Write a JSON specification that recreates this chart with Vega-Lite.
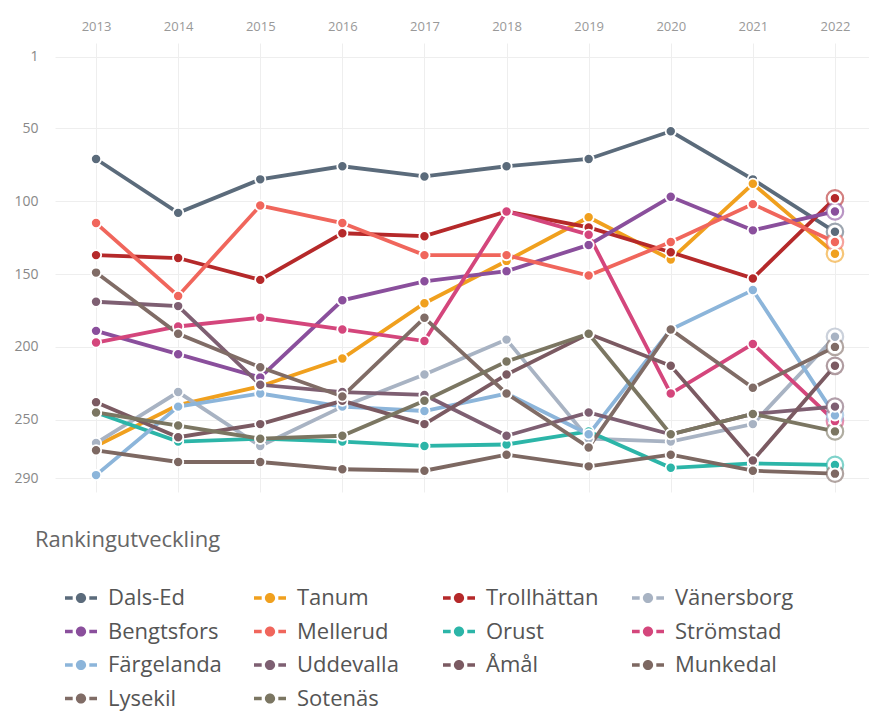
{
  "$schema": "https://vega.github.io/schema/vega-lite/v6.json",
  "width": 821,
  "height": 449,
  "autosize": {"type": "none"},
  "padding": {"left": 55, "top": 43, "right": 0, "bottom": 222},
  "background": "white",
  "config": {"view": {"stroke": null}, "font": "Open Sans"},
  "data": {"values": [
    {"kommun":"Dals-Ed","year":"2013","rank":71},{"kommun":"Dals-Ed","year":"2014","rank":108},{"kommun":"Dals-Ed","year":"2015","rank":85},{"kommun":"Dals-Ed","year":"2016","rank":76},{"kommun":"Dals-Ed","year":"2017","rank":83},{"kommun":"Dals-Ed","year":"2018","rank":76},{"kommun":"Dals-Ed","year":"2019","rank":71},{"kommun":"Dals-Ed","year":"2020","rank":52},{"kommun":"Dals-Ed","year":"2021","rank":85},{"kommun":"Dals-Ed","year":"2022","rank":121},
    {"kommun":"Tanum","year":"2013","rank":268},{"kommun":"Tanum","year":"2014","rank":240},{"kommun":"Tanum","year":"2015","rank":227},{"kommun":"Tanum","year":"2016","rank":208},{"kommun":"Tanum","year":"2017","rank":170},{"kommun":"Tanum","year":"2018","rank":141},{"kommun":"Tanum","year":"2019","rank":111},{"kommun":"Tanum","year":"2020","rank":140},{"kommun":"Tanum","year":"2021","rank":88},{"kommun":"Tanum","year":"2022","rank":136},
    {"kommun":"Trollhättan","year":"2013","rank":137},{"kommun":"Trollhättan","year":"2014","rank":139},{"kommun":"Trollhättan","year":"2015","rank":154},{"kommun":"Trollhättan","year":"2016","rank":122},{"kommun":"Trollhättan","year":"2017","rank":124},{"kommun":"Trollhättan","year":"2018","rank":107},{"kommun":"Trollhättan","year":"2019","rank":118},{"kommun":"Trollhättan","year":"2020","rank":135},{"kommun":"Trollhättan","year":"2021","rank":153},{"kommun":"Trollhättan","year":"2022","rank":98},
    {"kommun":"Vänersborg","year":"2013","rank":266},{"kommun":"Vänersborg","year":"2014","rank":231},{"kommun":"Vänersborg","year":"2015","rank":268},{"kommun":"Vänersborg","year":"2016","rank":241},{"kommun":"Vänersborg","year":"2017","rank":219},{"kommun":"Vänersborg","year":"2018","rank":195},{"kommun":"Vänersborg","year":"2019","rank":263},{"kommun":"Vänersborg","year":"2020","rank":265},{"kommun":"Vänersborg","year":"2021","rank":253},{"kommun":"Vänersborg","year":"2022","rank":193},
    {"kommun":"Bengtsfors","year":"2013","rank":189},{"kommun":"Bengtsfors","year":"2014","rank":205},{"kommun":"Bengtsfors","year":"2015","rank":221},{"kommun":"Bengtsfors","year":"2016","rank":168},{"kommun":"Bengtsfors","year":"2017","rank":155},{"kommun":"Bengtsfors","year":"2018","rank":148},{"kommun":"Bengtsfors","year":"2019","rank":130},{"kommun":"Bengtsfors","year":"2020","rank":97},{"kommun":"Bengtsfors","year":"2021","rank":120},{"kommun":"Bengtsfors","year":"2022","rank":107},
    {"kommun":"Mellerud","year":"2013","rank":115},{"kommun":"Mellerud","year":"2014","rank":165},{"kommun":"Mellerud","year":"2015","rank":103},{"kommun":"Mellerud","year":"2016","rank":115},{"kommun":"Mellerud","year":"2017","rank":137},{"kommun":"Mellerud","year":"2018","rank":137},{"kommun":"Mellerud","year":"2019","rank":151},{"kommun":"Mellerud","year":"2020","rank":128},{"kommun":"Mellerud","year":"2021","rank":102},{"kommun":"Mellerud","year":"2022","rank":128},
    {"kommun":"Orust","year":"2013","rank":245},{"kommun":"Orust","year":"2014","rank":265},{"kommun":"Orust","year":"2015","rank":263},{"kommun":"Orust","year":"2016","rank":265},{"kommun":"Orust","year":"2017","rank":268},{"kommun":"Orust","year":"2018","rank":267},{"kommun":"Orust","year":"2019","rank":258},{"kommun":"Orust","year":"2020","rank":283},{"kommun":"Orust","year":"2021","rank":280},{"kommun":"Orust","year":"2022","rank":281},
    {"kommun":"Strömstad","year":"2013","rank":197},{"kommun":"Strömstad","year":"2014","rank":186},{"kommun":"Strömstad","year":"2015","rank":180},{"kommun":"Strömstad","year":"2016","rank":188},{"kommun":"Strömstad","year":"2017","rank":196},{"kommun":"Strömstad","year":"2018","rank":107},{"kommun":"Strömstad","year":"2019","rank":123},{"kommun":"Strömstad","year":"2020","rank":232},{"kommun":"Strömstad","year":"2021","rank":198},{"kommun":"Strömstad","year":"2022","rank":251},
    {"kommun":"Färgelanda","year":"2013","rank":288},{"kommun":"Färgelanda","year":"2014","rank":241},{"kommun":"Färgelanda","year":"2015","rank":232},{"kommun":"Färgelanda","year":"2016","rank":241},{"kommun":"Färgelanda","year":"2017","rank":244},{"kommun":"Färgelanda","year":"2018","rank":232},{"kommun":"Färgelanda","year":"2019","rank":260},{"kommun":"Färgelanda","year":"2020","rank":188},{"kommun":"Färgelanda","year":"2021","rank":161},{"kommun":"Färgelanda","year":"2022","rank":247},
    {"kommun":"Uddevalla","year":"2013","rank":169},{"kommun":"Uddevalla","year":"2014","rank":172},{"kommun":"Uddevalla","year":"2015","rank":226},{"kommun":"Uddevalla","year":"2016","rank":231},{"kommun":"Uddevalla","year":"2017","rank":233},{"kommun":"Uddevalla","year":"2018","rank":261},{"kommun":"Uddevalla","year":"2019","rank":245},{"kommun":"Uddevalla","year":"2020","rank":260},{"kommun":"Uddevalla","year":"2021","rank":246},{"kommun":"Uddevalla","year":"2022","rank":241},
    {"kommun":"Åmål","year":"2013","rank":238},{"kommun":"Åmål","year":"2014","rank":262},{"kommun":"Åmål","year":"2015","rank":253},{"kommun":"Åmål","year":"2016","rank":237},{"kommun":"Åmål","year":"2017","rank":253},{"kommun":"Åmål","year":"2018","rank":219},{"kommun":"Åmål","year":"2019","rank":191},{"kommun":"Åmål","year":"2020","rank":213},{"kommun":"Åmål","year":"2021","rank":278},{"kommun":"Åmål","year":"2022","rank":213},
    {"kommun":"Munkedal","year":"2013","rank":271},{"kommun":"Munkedal","year":"2014","rank":279},{"kommun":"Munkedal","year":"2015","rank":279},{"kommun":"Munkedal","year":"2016","rank":284},{"kommun":"Munkedal","year":"2017","rank":285},{"kommun":"Munkedal","year":"2018","rank":274},{"kommun":"Munkedal","year":"2019","rank":282},{"kommun":"Munkedal","year":"2020","rank":274},{"kommun":"Munkedal","year":"2021","rank":285},{"kommun":"Munkedal","year":"2022","rank":287},
    {"kommun":"Lysekil","year":"2013","rank":149},{"kommun":"Lysekil","year":"2014","rank":191},{"kommun":"Lysekil","year":"2015","rank":214},{"kommun":"Lysekil","year":"2016","rank":234},{"kommun":"Lysekil","year":"2017","rank":180},{"kommun":"Lysekil","year":"2018","rank":232},{"kommun":"Lysekil","year":"2019","rank":269},{"kommun":"Lysekil","year":"2020","rank":188},{"kommun":"Lysekil","year":"2021","rank":228},{"kommun":"Lysekil","year":"2022","rank":200},
    {"kommun":"Sotenäs","year":"2013","rank":245},{"kommun":"Sotenäs","year":"2014","rank":254},{"kommun":"Sotenäs","year":"2015","rank":263},{"kommun":"Sotenäs","year":"2016","rank":261},{"kommun":"Sotenäs","year":"2017","rank":237},{"kommun":"Sotenäs","year":"2018","rank":210},{"kommun":"Sotenäs","year":"2019","rank":191},{"kommun":"Sotenäs","year":"2020","rank":260},{"kommun":"Sotenäs","year":"2021","rank":246},{"kommun":"Sotenäs","year":"2022","rank":258}
  ]},
  "layer": [
    {
      "mark": {"type": "line", "strokeWidth": 3.8},
      "encoding": {
        "x": {"field": "year", "type": "ordinal", "scale": {"paddingInner": 0, "paddingOuter": 0},
          "axis": {"orient": "top", "title": null, "grid": false, "ticks": false, "domain": false, "labelAngle": 0, "labelFontSize": 13, "labelColor": "#999999", "labelPadding": 10}},
        "y": {"field": "rank", "type": "quantitative", "scale": {"domain": [-8.6, 299.6], "reverse": true, "nice": false, "zero": false},
          "axis": {"values": [1, 50, 100, 150, 200, 250, 290], "title": null, "grid": true, "gridColor": "#eeeeee", "ticks": false, "domain": false, "labelFontSize": 14, "labelColor": "#888888", "labelPadding": 17}},
        "color": {"field": "kommun", "type": "nominal",
          "scale": {
            "domain": ["Dals-Ed","Tanum","Trollhättan","Vänersborg","Bengtsfors","Mellerud","Orust","Strömstad","Färgelanda","Uddevalla","Åmål","Munkedal","Lysekil","Sotenäs"],
            "range": ["#5b6b7b","#f0a01e","#b5292a","#a8b3c3","#8a4f9c","#f0665c","#2cb5a8","#d4467c","#8cb5da","#7e5f72","#7b5a62","#7d6862","#806c66","#7b7662"]
          },
          "legend": {
            "title": "Rankingutveckling",
            "orient": "none", "legendX": -20, "legendY": 487, "direction": "horizontal",
            "columns": 4, "gridAlign": "all", "columnPadding": 27, "rowPadding": 6.5,
            "symbolType": "M-1,-0.11H-0.52V0.11H-1Z M0.52,-0.11H1V0.11H0.52Z M-0.32,0A0.32,0.32 0 1,0 0.32,0A0.32,0.32 0 1,0 -0.32,0Z",
            "symbolSize": 1024, "symbolStrokeWidth": 0,
            "labelFontSize": 22, "labelColor": "#555555", "labelOffset": 11,
            "titleFontSize": 22, "titleFontWeight": "normal", "titleColor": "#666666", "titlePadding": 30, "titleLimit": 500, "padding": 0,
            "encode": {
              "symbols": {"update": {"fill": {"scale": "color", "field": "value"}, "stroke": {"value": "transparent"}, "opacity": {"value": 1}}},
              "title": {"update": {"dx": {"value": -30}}}
            }
          }
        }
      }
    },
    {
      "transform": [{"filter": "datum.year == '2022'"}],
      "mark": {"type": "point", "filled": false, "fill": "white", "fillOpacity": 1, "size": 270, "strokeWidth": 2.2, "strokeOpacity": 0.6, "opacity": 1},
      "encoding": {
        "x": {"field": "year", "type": "ordinal",
          "axis": {"orient": "bottom", "bandPosition": 0, "grid": true, "gridColor": "#eeeeee", "labels": false, "ticks": false, "domain": false, "title": null}},
        "y": {"field": "rank", "type": "quantitative"},
        "color": {"field": "kommun", "type": "nominal"}
      }
    },
    {
      "mark": {"type": "point", "filled": true, "size": 105, "stroke": "white", "strokeWidth": 1.8, "opacity": 1},
      "encoding": {
        "x": {"field": "year", "type": "ordinal", "axis": null},
        "y": {"field": "rank", "type": "quantitative"},
        "color": {"field": "kommun", "type": "nominal"}
      }
    }
  ],
  "resolve": {"axis": {"x": "independent"}}
}
